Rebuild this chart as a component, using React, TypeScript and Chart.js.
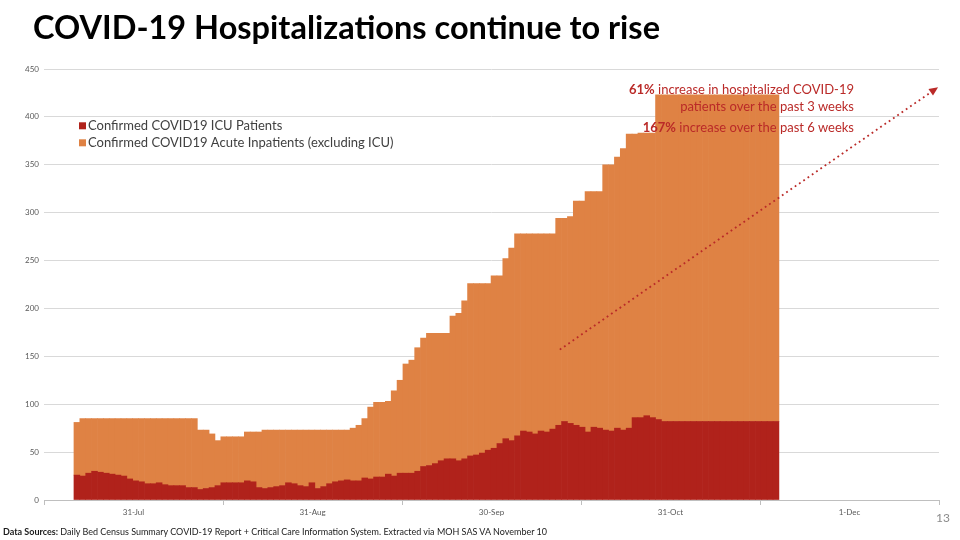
import React, { useEffect, useLayoutEffect, useRef } from 'react';
import { Chart, registerables } from 'chart.js';

Chart.register(...registerables);

// ---------- data ----------
const seriesNames = ['Confirmed COVID19 ICU Patients', 'Confirmed COVID19 Acute Inpatients (excluding ICU)'];
const seriesColors = ['#B0221B', '#DF8244'];

const icuPatients = [
  26, 25, 28, 30, 29, 28, 27, 26, 25, 22,
  20, 19, 17, 17, 18, 16, 15, 15, 15, 13,
  13, 11, 12, 13, 15, 18, 18, 18, 18, 20,
  19, 13, 12, 13, 14, 15, 18, 17, 15, 14,
  18, 12, 14, 17, 19, 20, 21, 20, 20, 23,
  22, 24, 24, 27, 25, 28, 28, 28, 30, 35,
  36, 38, 41, 43, 43, 41, 43, 46, 47, 49,
  52, 54, 59, 64, 62, 67, 72, 71, 69, 72,
  71, 74, 78, 82, 80, 78, 76, 71, 76, 75,
  73, 72, 75, 73, 75, 86, 86, 88, 86, 84,
  82, 82, 82, 82, 82, 82, 82, 82, 82, 82,
  82, 82, 82, 82, 82, 82, 82, 82, 82, 82,
];

const acuteInpatients = [
  55, 60, 57, 55, 56, 57, 58, 59, 60, 63,
  65, 66, 68, 68, 67, 69, 70, 70, 70, 72,
  72, 62, 61, 56, 47, 48, 48, 48, 48, 51,
  52, 58, 61, 60, 59, 58, 55, 56, 58, 59,
  55, 61, 59, 56, 54, 53, 52, 55, 58, 62,
  75, 78, 78, 76, 89, 97, 114, 118, 129, 134,
  138, 136, 133, 131, 149, 154, 165, 180, 179, 177,
  174, 180, 175, 188, 201, 211, 206, 207, 209, 206,
  207, 204, 216, 212, 216, 234, 236, 251, 246, 247,
  277, 278, 283, 294, 307, 296, 297, 295, 297, 339,
  341, 341, 341, 341, 341, 341, 341, 341, 341, 341,
  341, 341, 341, 341, 341, 341, 341, 341, 341, 341,
];

const dayIndex = icuPatients.map((_, i) => i);
const xTickLabels = ['31-Jul', '31-Aug', '30-Sep', '31-Oct', '1-Dec'];
const yMin = 0;
const yMax = 450;
const yStep = 50;

// trend arrow, in data units (day index, patients)
const trendFrom = [82.2, 157];
const trendTo = [146.6, 431];

// ---------- layout / style ----------
const X_MIN = -5.6;
const X_MAX = 146.75;
const FONT = 'Lato, "Open Sans", sans-serif';
const ANNOT_COLOR = '#BA2A28';

const legendPlugin = {
  id: 'insideLegend',
  afterDatasetsDraw(chart: any) {
    const { ctx, chartArea } = chart;
    ctx.save();
    ctx.font = `13px ${FONT}`;
    ctx.textBaseline = 'alphabetic';
    ctx.textAlign = 'left';
    chart.data.datasets.forEach((ds: any, i: number) => {
      const baseline = chartArea.top + 61.3 + i * 17;
      const bx = chartArea.left + 35;
      ctx.fillStyle = ds.backgroundColor;
      ctx.fillRect(bx, baseline - 8, 7, 7);
      ctx.fillStyle = '#404040';
      ctx.fillText(ds.label, bx + 9, baseline);
    });
    ctx.restore();
  },
};

const trendPlugin = {
  id: 'trendArrow',
  afterDatasetsDraw(chart: any) {
    const { ctx } = chart;
    const xs = chart.scales.x;
    const ys = chart.scales.y;
    const x0 = xs.getPixelForValue(trendFrom[0]);
    const y0 = ys.getPixelForValue(trendFrom[1]);
    const x1 = xs.getPixelForValue(trendTo[0]);
    const y1 = ys.getPixelForValue(trendTo[1]);
    const len = Math.hypot(x1 - x0, y1 - y0);
    const ux = (x1 - x0) / len;
    const uy = (y1 - y0) / len;
    const headL = 9;
    const headW = 4;
    ctx.save();
    ctx.strokeStyle = ANNOT_COLOR;
    ctx.fillStyle = ANNOT_COLOR;
    ctx.lineWidth = 1.8;
    ctx.setLineDash([1.8, 3.4]);
    ctx.beginPath();
    ctx.moveTo(x0, y0);
    ctx.lineTo(x1 - ux * headL, y1 - uy * headL);
    ctx.stroke();
    ctx.setLineDash([]);
    const bx = x1 - ux * headL;
    const by = y1 - uy * headL;
    ctx.beginPath();
    ctx.moveTo(x1, y1);
    ctx.lineTo(bx - uy * headW, by + ux * headW);
    ctx.lineTo(bx + uy * headW, by - ux * headW);
    ctx.closePath();
    ctx.fill();
    ctx.restore();
  },
};

function FitText({ width, style, children }: { width: number; style?: any; children: any }) {
  const ref = useRef<HTMLSpanElement>(null);
  useLayoutEffect(() => {
    const el = ref.current;
    if (!el) return;
    el.style.transform = 'none';
    const w = el.getBoundingClientRect().width;
    if (w > 0) el.style.transform = `scaleX(${width / w})`;
  }, [width]);
  return (
    <span
      ref={ref}
      style={{ display: 'inline-block', whiteSpace: 'nowrap', transformOrigin: '0 0', ...style }}
    >
      {children}
    </span>
  );
}

export default function App() {
  const canvasRef = useRef<HTMLCanvasElement>(null);

  useEffect(() => {
    const canvas = canvasRef.current;
    if (!canvas) return;
    const chart = new Chart(canvas, {
      type: 'bar',
      data: {
        labels: dayIndex,
        datasets: [
          {
            label: seriesNames[0],
            data: icuPatients,
            backgroundColor: seriesColors[0],
            borderWidth: 0,
            categoryPercentage: 1,
            barPercentage: 1,
          },
          {
            label: seriesNames[1],
            data: acuteInpatients,
            backgroundColor: seriesColors[1],
            borderWidth: 0,
            categoryPercentage: 1,
            barPercentage: 1,
          },
        ],
      },
      options: {
        responsive: false,
        animation: false,
        layout: { padding: { left: 0, right: 21, top: 69, bottom: 20 } },
        plugins: {
          legend: { display: false },
          tooltip: { enabled: false },
        },
        scales: {
          x: {
            type: 'linear',
            stacked: true,
            min: X_MIN,
            max: X_MAX,
            offset: false,
            afterBuildTicks: (scale: any) => {
              const half = (X_MAX - X_MIN) / (xTickLabels.length * 2);
              const t = [];
              for (let k = 0; k <= xTickLabels.length * 2; k++) t.push({ value: X_MIN + k * half });
              scale.ticks = t;
            },
            afterFit: (scale: any) => {
              scale.height = 20;
            },
            ticks: {
              autoSkip: false,
              maxRotation: 0,
              color: '#595959',
              font: { family: FONT, size: 8 },
              padding: 3,
              callback: (_v: any, i: number) => (i % 2 === 1 ? xTickLabels[(i - 1) / 2] : ''),
            },
            grid: {
              offset: false,
              drawOnChartArea: false,
              drawTicks: true,
              tickLength: 5,
              color: (ctx: any) => (ctx.index % 2 === 0 ? '#BFBFBF' : 'rgba(0,0,0,0)'),
            },
            border: { display: true, color: '#BFBFBF', width: 1 },
          },
          y: {
            stacked: true,
            min: yMin,
            max: yMax,
            afterFit: (scale: any) => {
              scale.width = 44;
            },
            ticks: {
              stepSize: yStep,
              color: '#595959',
              font: { family: FONT, size: 8 },
              padding: 5,
            },
            grid: { color: '#D9D9D9', drawTicks: false, lineWidth: 1 },
            border: { display: false },
          },
        },
      } as any,
      plugins: [legendPlugin, trendPlugin],
    });
    return () => chart.destroy();
  }, []);

  const annotStyle: any = {
    position: 'absolute',
    right: 106,
    fontFamily: FONT,
    fontSize: 13,
    lineHeight: '13px',
    color: ANNOT_COLOR,
    whiteSpace: 'nowrap',
    textAlign: 'right',
  };

  return (
    <div
      style={{
        position: 'fixed',
        left: 0,
        top: 0,
        width: 960,
        height: 540,
        overflow: 'hidden',
        background: '#ffffff',
      }}
    >
      <canvas ref={canvasRef} width={960} height={540} style={{ position: 'absolute', left: 0, top: 0 }} />
      <div
        style={{
          position: 'absolute',
          left: 33,
          top: 9.7,
          fontFamily: FONT,
          fontWeight: 700,
          fontSize: 33,
          lineHeight: '33px',
          color: '#000',
        }}
      >
        <FitText width={627}>COVID-19 Hospitalizations continue to rise</FitText>
      </div>
      <div style={{ ...annotStyle, top: 82.8 }}>
        <b>61%</b> increase in hospitalized COVID-19
      </div>
      <div style={{ ...annotStyle, top: 99.5 }}>patients over the past 3 weeks</div>
      <div style={{ ...annotStyle, top: 121.2 }}>
        <b>167%</b> increase over the past 6 weeks
      </div>
      <div
        style={{
          position: 'absolute',
          left: 3,
          top: 527,
          fontFamily: FONT,
          fontSize: 9,
          lineHeight: '9px',
          color: '#1a1a1a',
        }}
      >
        <FitText width={544}>
          <b>Data Sources:</b> Daily Bed Census Summary COVID-19 Report + Critical Care Information System. Extracted
          via MOH SAS VA November 10
        </FitText>
      </div>
      <div
        style={{
          position: 'absolute',
          left: 936,
          top: 512.4,
          fontFamily: FONT,
          fontSize: 12,
          lineHeight: '12px',
          color: '#8C8C8C',
        }}
      >
        13
      </div>
    </div>
  );
}
